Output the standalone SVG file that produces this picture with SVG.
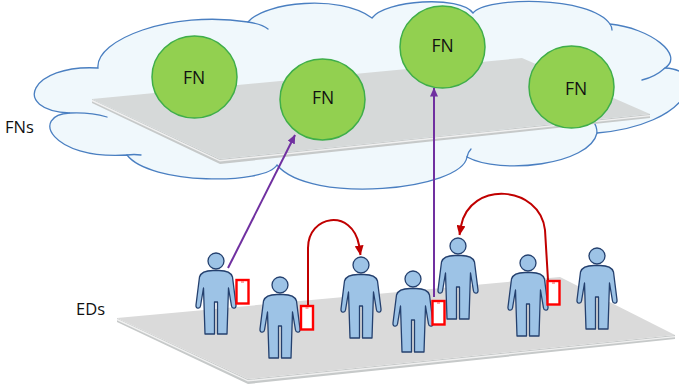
<svg xmlns="http://www.w3.org/2000/svg" width="679" height="384" viewBox="0 0 679 384">
  <style>
    .cloud { fill: #f0f8fc; stroke: #4a7fc1; stroke-width: 1.3; }
    .tail { fill: none; stroke: #4a7fc1; stroke-width: 1.3; stroke-linecap: round; }
    .face { fill: #d6d9d9; }
    .slab { fill: #c6c9c9; }
    .lip { fill: none; stroke: #f0f0f0; stroke-width: 1.4; }
    .fn { fill: #92d050; stroke: #3fae49; stroke-width: 1.5; }
    .label { font-family: "Open Sans", "Liberation Sans", sans-serif; fill: #111111; }
    .fnt { font-size: 17.5px; text-anchor: middle; }
    .side { font-size: 16.5px; }
    .person { fill: #9dc3e6; stroke: #24406e; stroke-width: 1.3; stroke-linejoin: round; }
    .phone { fill: #ffffff; stroke: #ff0000; stroke-width: 2.4; }
    .speaker { stroke: #ff5050; stroke-width: 1; }
    .up { fill: none; stroke: #7030a0; stroke-width: 2; }
    .hop { fill: none; stroke: #c00000; stroke-width: 2; }
  </style>
  <defs>
    <marker id="arrow-purple" markerWidth="9" markerHeight="8" refX="8.5" refY="4" orient="auto" markerUnits="userSpaceOnUse">
      <path d="M0,0 L9,4 L0,8 Z" fill="#7030a0"/>
    </marker>
    <marker id="arrow-red" markerWidth="10" markerHeight="9" refX="9.5" refY="4.5" orient="auto" markerUnits="userSpaceOnUse">
      <path d="M0,0 L10,4.5 L0,9 Z" fill="#c00000"/>
    </marker>
    <!-- standing person, origin at head centre -->
    <g id="person">
      <path class="person" d="M-3,9.5 L3,9.5 C10,9.5 15,11 16.5,16 L20,44 C20.5,48 16,48 15.5,45 L12.5,27 L11,73 L1.5,73 L1.5,41 L-1.5,41 L-1.5,73 L-11,73 L-12.5,27 L-15.5,45 C-16,48 -20.5,48 -20,44 L-16.5,16 C-15,11 -10,9.5 -3,9.5 Z"/>
      <circle class="person" cx="0" cy="0" r="8"/>
    </g>
    <!-- handheld device -->
    <g id="phone">
      <rect class="phone" x="0" y="0" width="12" height="23.5"/>
      <line class="speaker" x1="4.5" y1="2" x2="7.5" y2="2"/>
    </g>
  </defs>

  <!-- fog layer cloud -->
  <g id="cloud">
    <path class="cloud" d="M70,113 C10,110 30,64 98,68 C95,40 170,10 248,22 C265,2 340,-6 372,18 C385,0 460,-5 473,13 C485,-3 590,-5 610,24 C650,28 685,55 665,68 C710,70 690,125 597,133 C590,165 500,175 467,157 C462,190 310,205 277,165 C265,185 150,185 127,155 C50,160 30,115 70,113 Z"/>
    <path class="tail" d="M70,113 Q90,112 107,117"/>
    <path class="tail" d="M248,22 Q262,24 268,29"/>
    <path class="tail" d="M610,24 Q612,27 612,30"/>
    <path class="tail" d="M665,68 Q655,77 642,80"/>
    <path class="tail" d="M597,133 Q597,126 593,121"/>
    <path class="tail" d="M467,157 Q468,152 471,149"/>
    <path class="tail" d="M127,155 Q134,154 141,155"/>
  </g>

  <!-- fog node plane -->
  <g id="fn-plane">
    <polygon class="slab" points="92,99 220,159 650,114 650,118 220,164 92,103"/>
    <polygon class="face" points="92,99 522,58 650,114 220,159"/>
    <polyline class="lip" points="92,100.5 220,160.8 650,115.6"/>
  </g>

  <text class="label side" x="5" y="133">FNs</text>

  <g id="fn1"><ellipse class="fn" cx="194.5" cy="77" rx="42.5" ry="41"/><text class="label fnt" x="194" y="84">FN</text></g>
  <g id="fn2"><ellipse class="fn" cx="322.5" cy="99.5" rx="42.5" ry="40.5"/><text class="label fnt" x="323" y="103.5">FN</text></g>
  <g id="fn3"><ellipse class="fn" cx="442.5" cy="47" rx="42.5" ry="41"/><text class="label fnt" x="442.5" y="51.5">FN</text></g>
  <g id="fn4"><ellipse class="fn" cx="571.5" cy="87" rx="42.5" ry="41"/><text class="label fnt" x="576" y="95">FN</text></g>

  <!-- end device plane -->
  <g id="ed-plane">
    <polygon class="slab" points="117,318 248,379 675,335 675,339 248,384 117,322"/>
    <polygon class="face" points="117,318 560,277 675,335 248,379" style="fill:#dadada"/>
    <polyline class="lip" points="117,319.5 248,380.8 675,336.6"/>
  </g>

  <text class="label side" x="76" y="315">EDs</text>

  <g id="ed1"><use href="#person" x="216" y="261"/><use href="#phone" x="236.5" y="280"/></g>
  <g id="ed2"><use href="#person" x="280" y="285"/><use href="#phone" x="301" y="306"/></g>
  <g id="ed3"><use href="#person" x="361" y="265"/></g>
  <g id="ed4"><use href="#person" x="413" y="279"/><use href="#phone" x="432.5" y="301"/></g>
  <g id="ed5"><use href="#person" x="458" y="246"/></g>
  <g id="ed6"><use href="#person" x="528" y="263"/><use href="#phone" x="547.5" y="281"/></g>
  <g id="ed7"><use href="#person" x="597" y="256"/></g>

  <!-- offload and hand-over links -->
  <g id="connectors">
    <line class="up" x1="228" y1="268" x2="295" y2="135" marker-end="url(#arrow-purple)"/>
    <line class="up" x1="434" y1="297" x2="434" y2="88" marker-end="url(#arrow-purple)"/>
    <path class="hop" d="M308,305 L308,248 C308,215 352,208 359,245 L360.5,255" marker-end="url(#arrow-red)"/>
    <path class="hop" d="M548,280 L545,230 C540,185 470,180 461,226 L459.5,235" marker-end="url(#arrow-red)"/>
  </g>
</svg>
